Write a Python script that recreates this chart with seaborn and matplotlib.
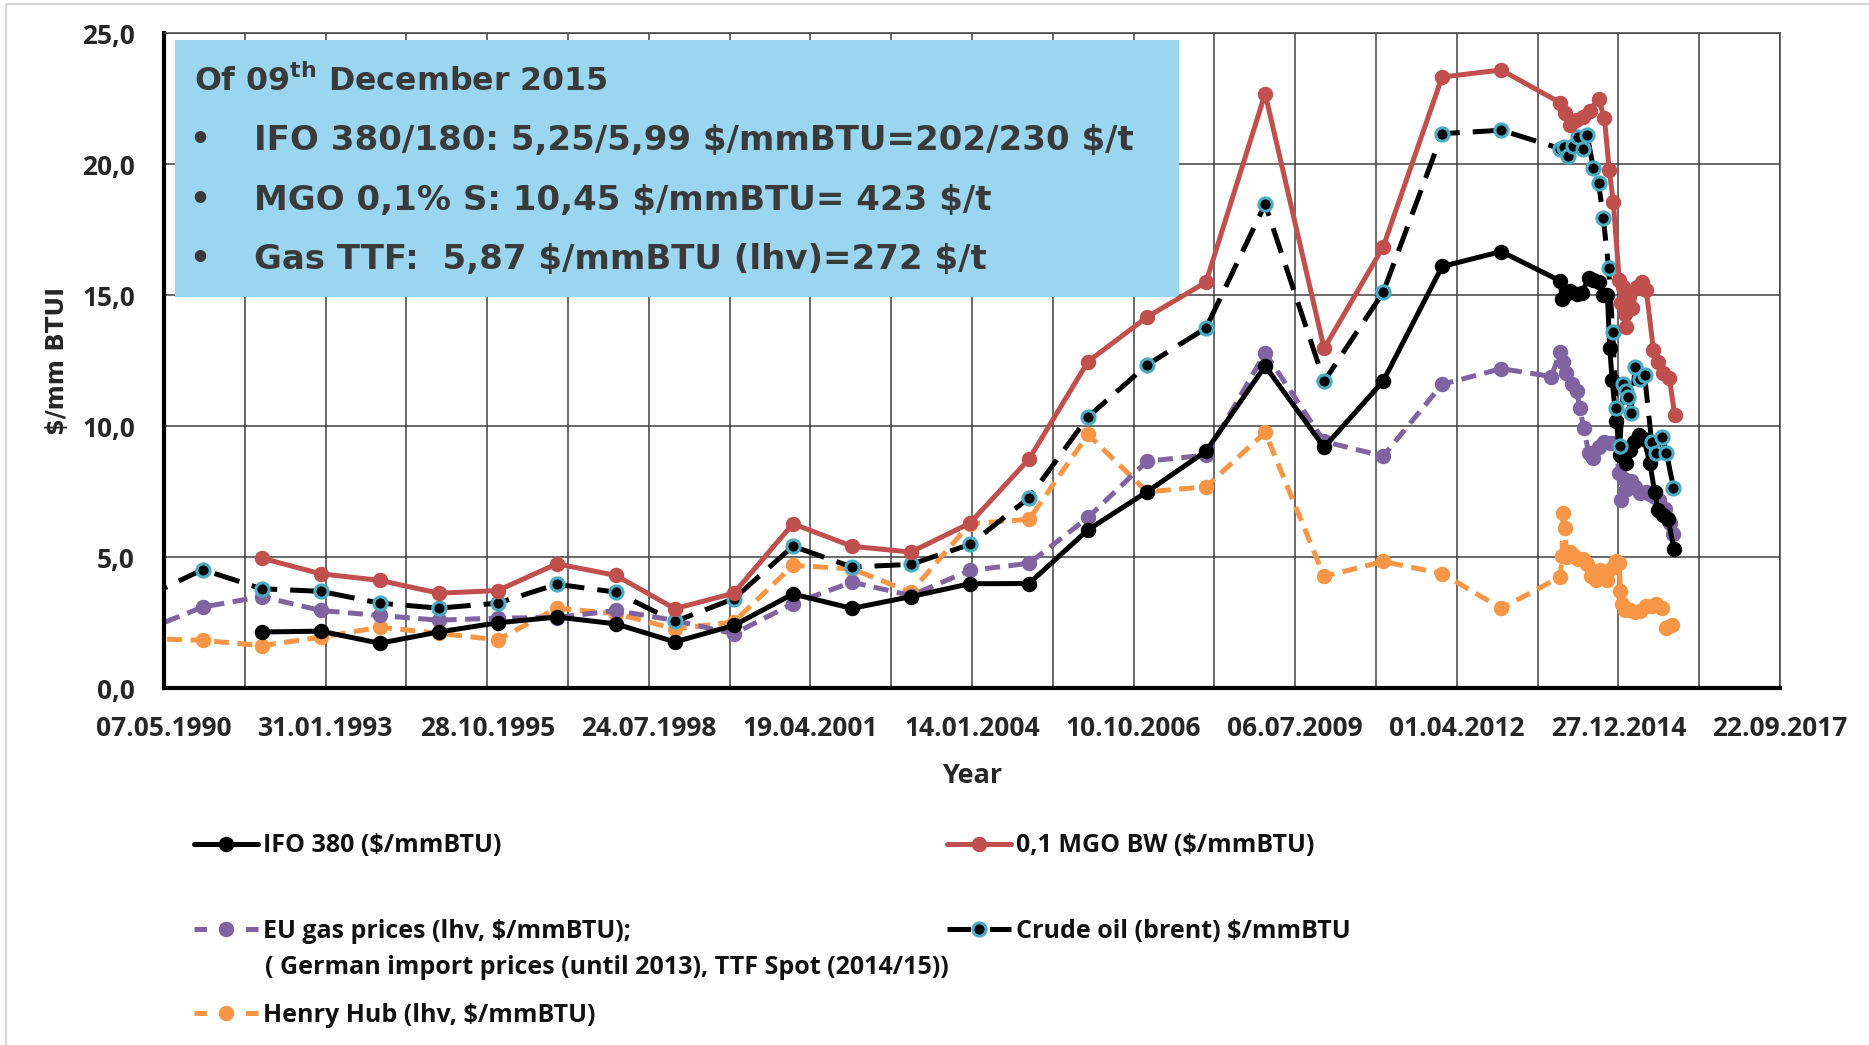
import numpy as np
import pandas as pd
import matplotlib
matplotlib.use("Agg")
import matplotlib.pyplot as plt
import matplotlib.dates as mdates
import seaborn as sns
from matplotlib.patches import Rectangle
from matplotlib.lines import Line2D
from matplotlib.font_manager import FontProperties

# ---------------- data (x as decimal years) ----------------
annual_92_13 = list(range(1992, 2014))
annual_90_13 = list(range(1990, 2014))

ifo_years = annual_92_13 + [2014.00, 2014.03, 2014.10, 2014.17, 2014.28, 2014.37, 2014.48, 2014.56,
                            2014.65, 2014.73, 2014.80, 2014.84, 2014.88, 2014.95, 2015.01, 2015.06,
                            2015.12, 2015.18, 2015.25, 2015.33, 2015.42, 2015.52, 2015.60, 2015.66,
                            2015.75, 2015.83, 2015.93]
ifo_values = [2.15, 2.18, 1.72, 2.15, 2.5, 2.72, 2.46, 1.77, 2.4, 3.6, 3.05, 3.5, 3.99, 4.0,
              6.05, 7.5, 9.05, 12.3, 9.2, 11.72, 16.1, 16.67,
              15.55, 14.85, 15.05, 15.15, 15.05, 15.1, 15.65, 15.6, 15.5, 15.0, 15.0, 13.0, 11.75,
              10.2, 8.9, 9.0, 8.6, 9.1, 9.4, 9.65, 9.5, 8.6, 7.5, 6.8, 6.6, 6.45, 5.3]

mgo_years = annual_92_13 + [2014.00, 2014.08, 2014.17, 2014.27, 2014.38, 2014.50, 2014.65, 2014.75,
                            2014.83, 2014.90, 2015.00, 2015.03, 2015.06, 2015.09, 2015.12, 2015.17,
                            2015.22, 2015.30, 2015.38, 2015.46, 2015.58, 2015.66, 2015.75, 2015.85,
                            2015.94]
mgo_values = [4.97, 4.37, 4.12, 3.63, 3.73, 4.75, 4.31, 3.04, 3.63, 6.28, 5.42, 5.2, 6.3, 8.75,
              12.47, 14.17, 15.5, 22.7, 12.97, 16.84, 23.33, 23.6,
              22.35, 21.95, 21.5, 21.7, 21.8, 22.05, 22.5, 21.75, 19.8, 18.55, 15.6, 14.7, 15.3,
              14.3, 13.8, 15.0, 14.5, 15.3, 15.5, 15.2, 12.9, 12.45, 12.05, 11.85, 10.45]

eu_years = annual_90_13 + [2013.85, 2014.00, 2014.05, 2014.09, 2014.20, 2014.28, 2014.33, 2014.40,
                           2014.48, 2014.55, 2014.65, 2014.75, 2014.85, 2014.93, 2015.00, 2015.03,
                           2015.08, 2015.13, 2015.20, 2015.27, 2015.35, 2015.45, 2015.52, 2015.60,
                           2015.68, 2015.78, 2015.86, 2015.92]
eu_values = [2.2, 3.1, 3.5, 2.97, 2.78, 2.6, 2.68, 2.7, 2.97, 2.59, 2.08, 3.23, 4.05, 3.54, 4.5,
             4.77, 6.52, 8.67, 8.9, 12.8, 9.42, 8.86, 11.6, 12.2,
             11.9, 12.85, 12.45, 12.05, 11.6, 11.35, 10.7, 9.95, 9.0, 8.8, 9.2, 9.4, 9.35, 9.35,
             8.2, 7.2, 8.0, 7.6, 7.9, 7.7, 7.45, 7.5, 7.4, 7.3, 7.2, 6.85, 6.3, 5.9]

crude_years = annual_90_13 + [2014.00, 2014.06, 2014.14, 2014.22, 2014.30, 2014.38, 2014.46, 2014.56,
                              2014.65, 2014.73, 2014.82, 2014.89, 2014.95, 2015.01, 2015.07, 2015.11,
                              2015.15, 2015.20, 2015.27, 2015.35, 2015.43, 2015.55, 2015.62, 2015.73,
                              2015.80, 2015.92]
crude_values = [3.45, 4.53, 3.8, 3.7, 3.25, 3.06, 3.25, 3.97, 3.67, 2.55, 3.42, 5.42, 4.63, 4.73,
                5.49, 7.27, 10.36, 12.34, 13.75, 18.48, 11.72, 15.11, 21.17, 21.3,
                20.6, 20.65, 20.3, 20.7, 21.05, 20.6, 21.1, 19.85, 19.3, 17.95, 16.05, 13.6, 10.7,
                9.25, 11.6, 11.35, 11.1, 10.5, 12.25, 11.8, 11.95, 9.4, 9.0, 9.6, 9.0, 7.65]

hh_years = annual_90_13 + [2014.00, 2014.03, 2014.05, 2014.08, 2014.11, 2014.16, 2014.22, 2014.30,
                           2014.38, 2014.45, 2014.53, 2014.60, 2014.67, 2014.74, 2014.80, 2014.87,
                           2014.95, 2015.00, 2015.02, 2015.05, 2015.10, 2015.18, 2015.26, 2015.35,
                           2015.45, 2015.55, 2015.63, 2015.72, 2015.80, 2015.90]
hh_values = [1.9, 1.83, 1.63, 1.95, 2.33, 2.1, 1.85, 3.06, 2.85, 2.27, 2.53, 4.69, 4.56, 3.67, 6.28,
             6.45, 9.69, 7.5, 7.69, 9.77, 4.27, 4.84, 4.38, 3.05,
             4.25, 5.05, 6.7, 6.1, 5.0, 5.2, 5.1, 4.95, 4.95, 4.75, 4.3, 4.15, 4.5, 4.3, 4.15, 4.6,
             4.85, 4.8, 3.7, 3.2, 3.0, 3.0, 2.9, 2.95, 3.15, 3.15, 3.2, 3.05, 2.3, 2.4]

legend_labels = {
    "ifo": "IFO 380 ($/mmBTU)",
    "mgo": "0,1 MGO BW ($/mmBTU)",
    "eu": "EU gas prices (lhv, $/mmBTU);",
    "eu2": "( German import prices (until 2013), TTF Spot (2014/15))",
    "crude": "Crude oil (brent) $/mmBTU",
    "hh": "Henry Hub (lhv, $/mmBTU)",
}
box_title = r"Of 09$^{\mathbf{th}}$ December 2015"
box_lines = ["IFO 380/180: 5,25/5,99 $/mmBTU=202/230 $/t",
             "MGO 0,1% S: 10,45 $/mmBTU= 423 $/t",
             "Gas TTF:  5,87 $/mmBTU (lhv)=272 $/t"]
y_ticks = [0, 5, 10, 15, 20, 25]
x_start = "1990-05-07"

# ---------------- helpers ----------------
def to_dates(years):
    out = []
    for y in years:
        yi = int(np.floor(y + 1e-9))
        s = pd.Timestamp(yi, 1, 1)
        e = pd.Timestamp(yi + 1, 1, 1)
        out.append(s + (e - s) * (y - yi))
    return out

# ---------------- style ----------------
sns.set_style("white")
plt.rcParams["font.family"] = ["Open Sans", "DejaVu Sans"]
plt.rcParams["mathtext.fontset"] = "dejavusans"

W, H = 1869, 1045
fig = plt.figure(figsize=(W / 100, H / 100), dpi=100)
fig.patch.set_facecolor("white")
ax = fig.add_axes([164 / W, 1 - 688.3 / H, 1616 / W, 655 / H])

LW = 3.6
MS = 9.5

def draw(years, values, color, dashes=None, mfc=None, mec=None, label=None, z=2, mew=1.6):
    df = pd.DataFrame({"date": to_dates(years), "value": values})
    sns.lineplot(data=df, x="date", y="value", ax=ax, color=color, linewidth=LW,
                 marker="o", markersize=MS, markerfacecolor=mfc or color,
                 markeredgecolor=mec or color, markeredgewidth=mew,
                 legend=False, errorbar=None, sort=False, label=label, zorder=z)
    line = ax.lines[-1]
    if dashes is not None:
        line.set_dashes(dashes)
    return line

c_black = "#000000"
c_red = "#C0504D"
c_purple = "#8064A2"
c_orange = "#F79646"
c_cyan = "#4BACC6"

l_hh = draw(hh_years, hh_values, c_orange, dashes=(3.0, 1.7), label=legend_labels["hh"], z=2.1)
l_eu = draw(eu_years, eu_values, c_purple, dashes=(3.0, 1.7), label=legend_labels["eu"], z=2.2)
l_ifo = draw(ifo_years, ifo_values, c_black, label=legend_labels["ifo"], z=2.3)
l_crude = draw(crude_years, crude_values, c_black, dashes=(5.2, 2.6), mfc=c_black, mec=c_cyan,
               label=legend_labels["crude"], z=2.4, mew=2.2)
l_mgo = draw(mgo_years, mgo_values, c_red, label=legend_labels["mgo"], z=2.5)

# ---------------- axes ----------------
start = pd.Timestamp(x_start)
end = start + pd.Timedelta(days=10000)
ax.set_xlim(start, end)
ax.set_ylim(0, 25)
major = pd.date_range(start, periods=11, freq="1000D")
minor = pd.date_range(start + pd.Timedelta(days=500), periods=10, freq="1000D")
ax.set_xticks(mdates.date2num(major))
ax.set_xticks(mdates.date2num(minor), minor=True)
tick_fp = FontProperties(family="Open Sans", weight="bold", size=19)
ax.set_xticklabels([d.strftime("%d.%m.%Y") for d in major], fontproperties=tick_fp)
ax.set_yticks(y_ticks)
ax.set_yticklabels([f"{v:.1f}".replace(".", ",") for v in y_ticks], fontproperties=tick_fp)
ax.tick_params(axis="both", which="both", length=0)
ax.tick_params(axis="x", pad=19)
ax.tick_params(axis="y", pad=21)

ax.set_axisbelow(True)
ax.grid(True, which="both", axis="x", color="#404040", linewidth=1.1)
ax.grid(True, which="major", axis="y", color="#404040", linewidth=1.1)
for s in ["top", "right"]:
    ax.spines[s].set_color("#404040")
    ax.spines[s].set_linewidth(1.1)
for s in ["left", "bottom"]:
    ax.spines[s].set_color("black")
    ax.spines[s].set_linewidth(3.0)

ax.set_xlabel("Year", fontproperties=FontProperties(family="Open Sans", weight="bold", size=19.5),
              labelpad=15)
ax.set_ylabel("$/mm BTUI", fontproperties=FontProperties(family="DejaVu Sans", weight="bold", size=17.5))
ax.yaxis.set_label_coords(-0.059, 0.5)

# ---------------- info box ----------------
ax.add_patch(Rectangle((11 / 1616, (688.3 - 297) / 655), (1179 - 175) / 1616, (297 - 40) / 655,
                       transform=ax.transAxes, facecolor="#9AD6EF", edgecolor="none", zorder=1.5))
box_col = "#3a3a3a"
fig.text(194 / W, 1 - 91 / H, box_title, va="baseline", ha="left",
         family="DejaVu Sans", weight="bold", size=22.8, color=box_col)
for i, txt in enumerate(box_lines):
    yb = 1 - (150 + 59.5 * i) / H
    fig.text(189 / W, yb, "\u2022", va="baseline", ha="left",
             family="DejaVu Sans", weight="bold", size=23.5, color=box_col)
    fig.text(254 / W, yb, txt, va="baseline", ha="left", parse_math=False,
             family="DejaVu Sans", weight="bold", size=24.5, color=box_col)

# ---------------- legend ----------------
leg_fp = FontProperties(family="Open Sans", weight="bold", size=18)

def legend_handle(line, dashes=None):
    """Legend key that copies the series line style; dashed keys use a symmetric pattern."""
    h = Line2D([], [], color=line.get_color(), linewidth=line.get_linewidth(),
               marker=line.get_marker(), markersize=line.get_markersize(),
               markerfacecolor=line.get_markerfacecolor(),
               markeredgecolor=line.get_markeredgecolor(),
               markeredgewidth=line.get_markeredgewidth())
    if dashes is not None:
        h.set_dashes(dashes)
    return h

def put_legend(handle, label, x, y):
    return fig.legend(handles=[handle], labels=[label], loc="center left",
                      bbox_to_anchor=(x / W, 1 - y / H), frameon=False, borderpad=0,
                      borderaxespad=0, handlelength=2.55, handletextpad=0.2, prop=leg_fp,
                      labelcolor="#111111")

put_legend(legend_handle(l_ifo), legend_labels["ifo"], 194, 846)
put_legend(legend_handle(l_mgo), legend_labels["mgo"], 947, 846)
put_legend(legend_handle(l_eu, dashes=(2.5, 7.8)), legend_labels["eu"], 194, 931)
put_legend(legend_handle(l_crude, dashes=(4.7, 3.8)), legend_labels["crude"], 947, 931)
put_legend(legend_handle(l_hh, dashes=(2.5, 7.8)), legend_labels["hh"], 194, 1015)
fig.text(265 / W, 1 - 968 / H, legend_labels["eu2"], fontproperties=leg_fp, color="#111111",
         va="center", ha="left")

# thin page border
fig.add_artist(Rectangle((6 / W, -0.01), 1.1, 1.01 - 4 / H, transform=fig.transFigure,
                         fill=False, edgecolor="#d5d5d5", linewidth=1.5))

fig.savefig("out.png", dpi=100, facecolor="white")
